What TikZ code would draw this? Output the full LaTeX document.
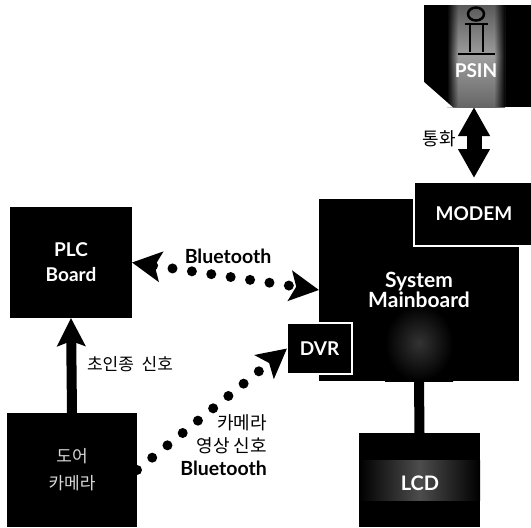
\documentclass[tikz,border=0pt]{standalone}
\usepackage{fontspec}
\usepackage{tikz}
\usetikzlibrary{arrows.meta,fadings}
\setmainfont{Lato}
\newfontfamily\krfont{Noto Sans CJK KR}
\tikzset{
  blockbox/.style={fill=black, text=white, font=\bfseries\fontsize{19}{25}\selectfont, align=center, inner sep=0pt, outer sep=0pt},
  framedbox/.style={blockbox, draw=white, line width=2pt},
  lbl/.style={font=\krfont\fontsize{18}{23}\selectfont, align=right, inner sep=0pt},
  wire/.style={line width=10pt},
  dotline/.style={line width=10pt, line cap=round, dash pattern=on 0pt off 19.6pt},
  dothead/.tip={Stealth[length=29pt, width=30pt, inset=6pt]},
  fathead/.tip={Stealth[length=29pt, width=30pt, inset=0pt]}
}
\begin{document}
\begin{tikzpicture}[x=1pt, y=-1pt]
    \useasboundingbox (0,0) rectangle (531,528);
    %% boxes
    \node [blockbox, minimum width=122pt, minimum height=111pt] (plc) at (71,262.5) {PLC\\Board};
    \node [blockbox, minimum width=130pt, minimum height=114pt, font=\krfont\fontsize{17}{27}\selectfont, text=black!15] (door) at (72,470) {도어\\카메라};
    \node [blockbox, minimum width=200pt, minimum height=182pt] (main) at (419,290) {};
    \node [blockbox, minimum width=121pt, minimum height=94pt] (lcd) at (419.5,480) {};
    \node [blockbox, minimum width=107pt, minimum height=102pt] (pstn) at (477.5,56) {};
    %% grey parts
    \shade [left color=black, right color=black, middle color=black!70] (359,460) rectangle (480,500);
    \shade [inner color=black!80, outer color=black] (385,305) rectangle (453,381);
    \shade [top color=black!65, bottom color=black!60, middle color=black!38] (447,5) rectangle (505,107);
    \fill [black, path fading=east] (447,5) rectangle (458,107);
    \fill [black, path fading=west] (494,5) rectangle (505,107);
    \fill [white] (424,82) -- (453,107.5) -- (424,107.5) -- cycle;
    %% phone thing
    \draw [black, line width=2.5pt] (476,14) ellipse (8pt and 6.5pt);
    \draw [black, line width=2.5pt] (465,24) -- (488,24) (470,24) -- (470,52) (483,24) -- (483,52) (458,54) -- (495,54);
    %% texts sitting on the grey
    \node [blockbox, fill=none, font=\bfseries\fontsize{21}{20}\selectfont] (maintext) at (419,290) {System\\Mainboard};
    \node [blockbox, fill=none, font=\bfseries\fontsize{20}{24}\selectfont] (lcdtext) at (420,483) {LCD};
    \node [blockbox, fill=none] (pstntext) at (476,71) {PSIN};
    \node [framedbox, minimum width=120pt, minimum height=64pt] (modem) at (474,214) {MODEM};
    \node [framedbox, minimum width=65pt, minimum height=51pt] (dvr) at (319.5,348.5) {DVR};
    %% connectors
    \draw [wire] (main.south) -- (lcd.north);
    \draw [wire, -{Stealth[length=28pt, width=28pt, inset=5pt]}] (door.north) -- (plc.south);
    \draw [line width=15pt, fathead-fathead, shorten >=4pt] (modem.north |- pstn.south) -- (modem.north);
    \draw [dotline, dothead-dothead] (plc.east) -- (main.west);
    \draw [dotline, -dothead] (door.east) -- (dvr.west);
    %% labels
    \node [lbl] (call) at (439,139) {통화};
    \node [lbl, font=\krfont\fontsize{17}{20}\selectfont] (bell) at (130,364) {초인종\ \ 신호};
    \node [font=\bfseries\fontsize{19.5}{20}\selectfont, inner sep=0pt] (bt1) at (228,256) {Bluetooth};
    \node [lbl, anchor=north east] (camsig) at (267,414) {카메라\\영상 신호\\{\bfseries\rmfamily\fontsize{19.5}{20}\selectfont Bluetooth}};
\end{tikzpicture}
\end{document}
